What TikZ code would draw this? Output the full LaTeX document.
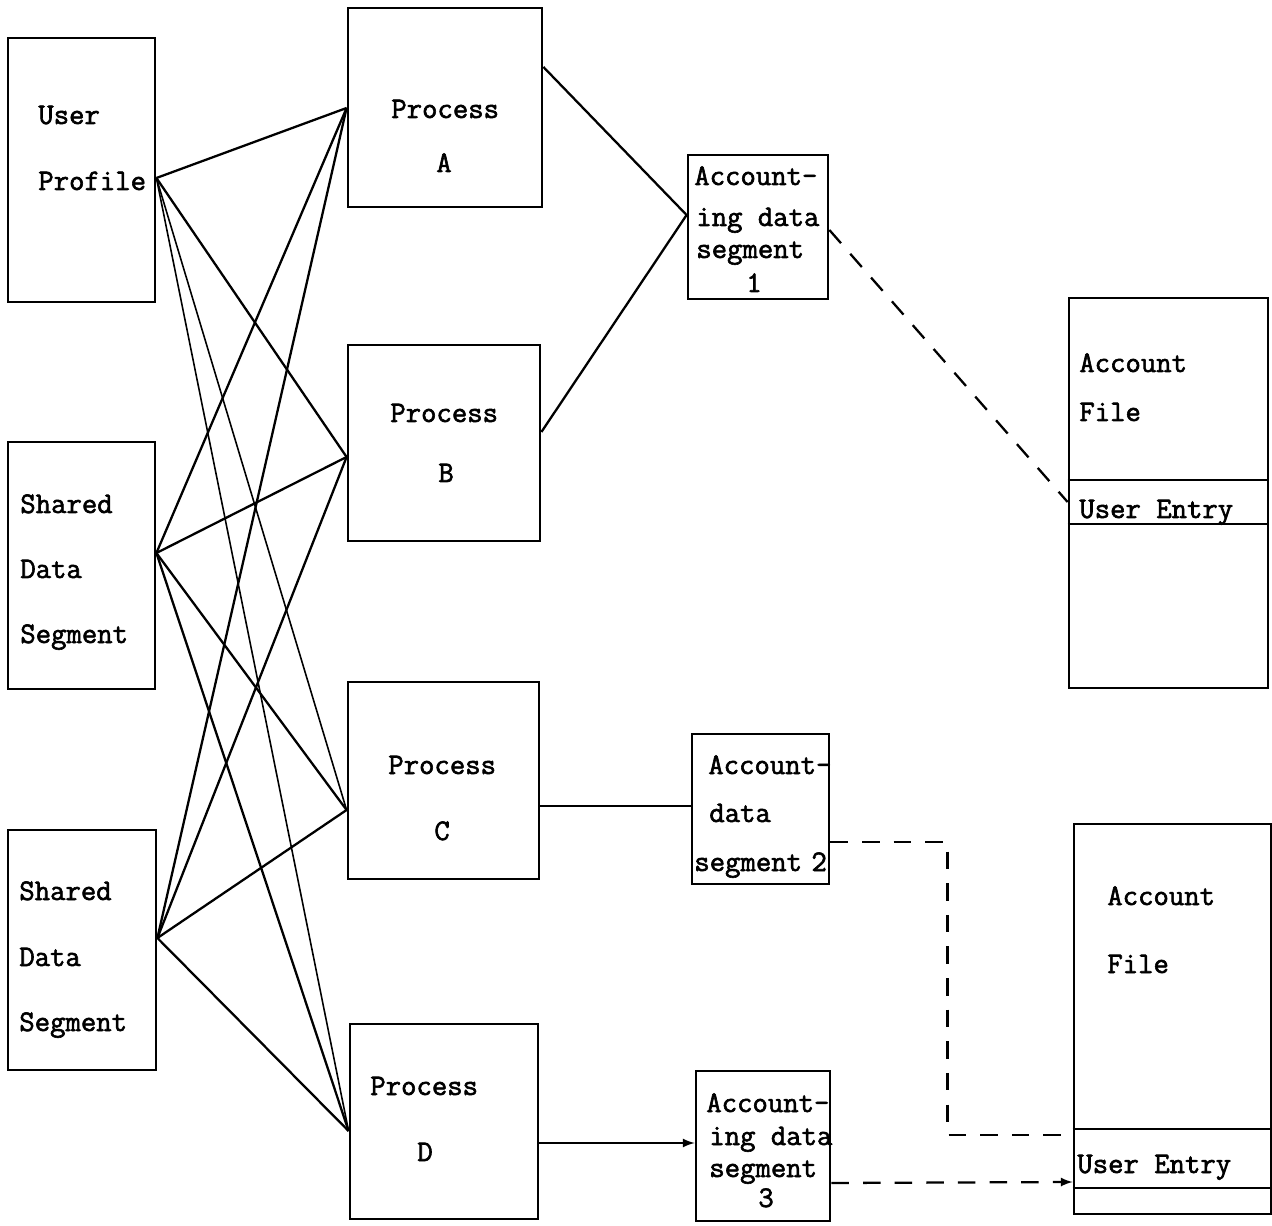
\documentclass[tikz,border=0pt]{standalone}
\usepackage{fontspec}
\usepackage{tikz}
\usetikzlibrary{fit}
\newfontfamily\typefont{Latin Modern Mono}[FakeBold=2]

\begin{document}
\begin{tikzpicture}[x=0.02cm, y=-0.02cm,
  box/.style={draw, line width=1.6pt, inner sep=0pt},
  lbl/.style={anchor=base west, inner sep=0pt,
    font=\typefont\fontsize{17}{20}\selectfont},
  link/.style={line width=1.3pt},
  thinlink/.style={line width=0.9pt},
  dlink/.style={line width=1.3pt, dash pattern=on 10pt off 8pt}]
  \useasboundingbox (0,0) rectangle (1272,1226);

  % user profile and shared data segments
  \node[box, fit={(8,38) (155,302)}] (UP) {};
  \node[box, fit={(8,442) (155,689)}] (SD1) {};
  \node[box, fit={(8,830) (156,1070)}] (SD2) {};
  \node[lbl] (UPa) at (38,124) {User};
  \node[lbl] (UPb) at (38,190) {Profile};
  \node[lbl] (SD1a) at (20,513) {Shared};
  \node[lbl] (SD1b) at (20,578) {Data};
  \node[lbl] (SD1c) at (20,643) {Segment};
  \node[lbl] (SD2a) at (19,900) {Shared};
  \node[lbl] (SD2b) at (19,966) {Data};
  \node[lbl] (SD2c) at (19,1031) {Segment};

  % processes
  \node[box, fit={(348,8) (542,207)}] (PA) {};
  \node[box, fit={(348,345) (540,541)}] (PB) {};
  \node[box, fit={(348,682) (539,879)}] (PC) {};
  \node[box, fit={(350,1024) (538,1219)}] (PD) {};
  \node[lbl] (PAa) at (391,118) {Process};
  \node[lbl] (PAb) at (436,172) {A};
  \node[lbl] (PBa) at (390,422) {Process};
  \node[lbl] (PBb) at (438,482) {B};
  \node[lbl] (PCa) at (388,774) {Process};
  \node[lbl] (PCb) at (434,840) {C};
  \node[lbl] (PDa) at (370,1095) {Process};
  \node[lbl] (PDb) at (417,1161) {D};

  % accounting data segments
  \node[box, fit={(688,155) (828,299)}] (AD1) {};
  \node[box, fit={(692,734) (829,884)}] (AD2) {};
  \node[box, fit={(696,1071) (830,1221)}] (AD3) {};
  \node[lbl] (AD1a) at (694,185) {Account-};
  \node[lbl] (AD1b) at (696,226) {ing data};
  \node[lbl] (AD1c) at (696,258) {segment};
  \node[lbl] (AD1d) at (746,292) {1};
  \node[lbl] (AD2a) at (708,774) {Account-};
  \node[lbl] (AD2b) at (709,822) {data};
  \node[lbl] (AD2c) at (694,871) {segment\kern-0.2em{} 2};
  \node[lbl] (AD3a) at (706,1112) {Account-};
  \node[lbl] (AD3b) at (709,1145) {ing data};
  \node[lbl] (AD3c) at (709,1177) {segment};
  \node[lbl] (AD3d) at (758,1207) {3};

  % account files
  \node[box, fit={(1069,298) (1268,688)}] (AF1) {};
  \node[box, fit={(1074,824) (1271,1214)}] (AF2) {};
  \node[lbl] (AF1a) at (1079,372) {Account};
  \node[lbl] (AF1b) at (1079,421) {File};
  \node[lbl] (AF1c) at (1079,518) {User Entry};
  \node[lbl] (AF2a) at (1107,905) {Account};
  \node[lbl] (AF2b) at (1107,973) {File};
  \node[lbl] (AF2c) at (1077,1173) {User Entry};
  \draw[line width=1.3pt] (AF1.west |- 0,480) -- (AF1.east |- 0,480);
  \draw[line width=1.1pt] (AF1.west |- 0,524) -- (AF1.east |- 0,524);
  \draw[line width=1.3pt] (AF2.west |- 0,1129) -- (AF2.east |- 0,1129);
  \draw[line width=1.6pt] (AF2.west |- 0,1188) -- (AF2.east |- 0,1188);

  % ports on the box edges
  \coordinate (UPp) at (UP.east |- 0,178);
  \coordinate (SD1p) at (SD1.east |- 0,553);
  \coordinate (SD2p) at (SD2.east |- 0,938);
  \coordinate (PAl) at (PA.west |- 0,108);
  \coordinate (PBl) at (PB.west |- 0,457);
  \coordinate (PCl) at (PC.west |- 0,810);
  \coordinate (PDl) at (PD.west |- 0,1131);
  \coordinate (PAr) at (PA.east |- 0,67);
  \coordinate (PBr) at (PB.east |- 0,432);
  \coordinate (PCr) at (PC.east |- 0,806);
  \coordinate (PDr) at (PD.east |- 0,1143);
  \coordinate (AD1l) at (AD1.west |- 0,215);
  \coordinate (AD2l) at (AD2.west |- 0,806);
  \coordinate (AD3l) at (AD3.west |- 0,1143);
  \coordinate (AD1r) at (AD1.east |- 0,230);
  \coordinate (AD2r) at (AD2.east |- 0,842);
  \coordinate (AD3r) at (AD3.east |- 0,1183);
  \coordinate (AF1l) at (AF1.west |- 0,502);
  \coordinate (AF2u) at (AF2.west |- 0,1135);
  \coordinate (AF2d) at (AF2.west |- 0,1182);

  % segments to processes
  \draw[link] (UPp) -- (PAl);
  \draw[link] (UPp) -- (PBl);
  \draw[thinlink] (UPp) -- (PCl);
  \draw[thinlink] (UPp) -- (PDl);
  \draw[link] (SD1p) -- (PAl);
  \draw[link] (SD1p) -- (PBl);
  \draw[link] (SD1p) -- (PCl);
  \draw[link] (SD1p) -- (PDl);
  \draw[link] (SD2p) -- (PAl);
  \draw[link] (SD2p) -- (PBl);
  \draw[link] (SD2p) -- (PCl);
  \draw[link] (SD2p) -- (PDl);

  % processes to accounting data
  \draw[link] (PAr) -- (AD1l);
  \draw[link] (PBr) -- (AD1l);
  \draw[link] (PCr) -- (AD2l);
  \draw[link, -latex] (PDr) -- (AD3l);

  % accounting data to account files
  \draw[dlink] (AD1r) -- (AF1l);
  \draw[dlink] (AD2r) -- ++(117,0) |- (AF2u);
  \draw[dlink, -latex] (AD3r) -- (AF2d);
\end{tikzpicture}
\end{document}
